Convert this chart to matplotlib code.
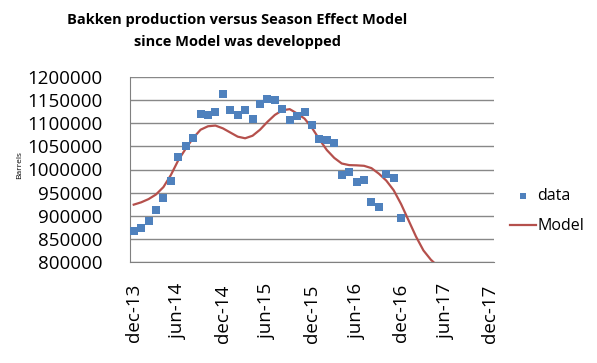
import matplotlib
matplotlib.use("Agg")
import matplotlib.pyplot as plt
import numpy as np

# Monthly data, starting dec-13
data = [867000, 873500, 888600, 912400, 939000, 975100, 1027000, 1050000,
        1068000, 1120000, 1118500, 1123400, 1163200, 1128600, 1118500, 1128600,
        1109200, 1142200, 1153000, 1150200, 1130800, 1107600, 1116300, 1124300,
        1096200, 1066000, 1063800, 1058000, 988100, 994600, 972100, 977300,
        929700, 919600, 990300, 981600, 895100]

model = [924000, 929000, 936000, 946000, 962000, 988000, 1020000, 1045000,
         1068000, 1086000, 1093500, 1095000, 1089000, 1080000, 1071000, 1067500,
         1073000, 1086000, 1103000, 1118000, 1128000, 1130500, 1121000, 1110000,
         1090000, 1065000, 1042000, 1025000, 1013000, 1009500, 1009000, 1008000,
         1003000, 991000, 976000, 955000, 925000, 890000, 855000, 825000,
         805000, 790000, 780000]

tick_labels = ["dec-13", "jun-14", "dec-14", "jun-15", "dec-15",
               "jun-16", "dec-16", "jun-17", "dec-17"]
tick_months = [0, 6, 12, 18, 24, 30, 36, 42, 48]
yticks = [800000, 850000, 900000, 950000, 1000000, 1050000, 1100000, 1150000, 1200000]

title = "Bakken production versus Season Effect Model\nsince Model was developped"

fig = plt.figure(figsize=(5.97, 3.63), dpi=100)
ax = fig.add_axes([130/597, 1 - 262/363, (494-130)/597, (262-77)/363])

x_data = np.arange(len(data))
x_model = np.arange(len(model))

ax.plot(x_model, model, color="#B5504C", lw=1.6, label="Model", zorder=3)
ax.scatter(x_data, data, marker="s", s=30, color="#4F81BD", label="data", zorder=4,
           linewidths=0)

ax.set_xlim(-0.5, 48.5)
ax.set_ylim(800000, 1200000)
ax.set_yticks(yticks)
ax.set_yticklabels([str(v) for v in yticks], fontfamily="Open Sans", fontsize=13.5)
ax.set_xticks(tick_months)
ax.set_xticklabels(tick_labels, rotation=90, fontfamily="Open Sans", fontsize=13.5)
ax.tick_params(axis="y", length=0, pad=20)
ax.tick_params(axis="x", length=0, pad=16)

ax.grid(axis="y", color="#888888", lw=1)
ax.set_axisbelow(True)
for s in ["top", "right"]:
    ax.spines[s].set_visible(False)
ax.spines["left"].set_color("#808080")
ax.spines["bottom"].set_color("#808080")

fig.text(20/597, 1 - 165/363, "Barrels", rotation=90, fontsize=6,
         ha="center", va="center", fontfamily="Open Sans")

fig.text(237/597, 1 - 31/363, title, ha="center", va="center",
         fontsize=10.5, fontweight="bold", fontfamily="Open Sans",
         linespacing=1.75)

handles, labels = ax.get_legend_handles_labels()
order = [1, 0]
leg = fig.legend([handles[i] for i in order], [labels[i] for i in order],
                 loc="center left", bbox_to_anchor=(496/597, 1 - 211/363),
                 frameon=False, prop={"family": "Open Sans", "size": 11.5},
                 handlelength=1.6, handletextpad=0.1, labelspacing=0.9,
                 markerscale=0.8)

fig.savefig("out.png", dpi=100)
